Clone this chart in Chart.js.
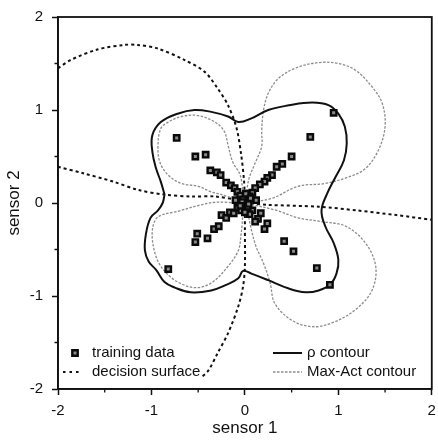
<!DOCTYPE html>
<html>
<head>
<meta charset="utf-8">
<script src="https://cdn.jsdelivr.net/npm/chart.js@4/dist/chart.umd.min.js"></script>
<style>
  html, body { margin: 0; padding: 0; background: #fff; }
  canvas { display: block; }
</style>
</head>
<body>
<canvas id="chart" width="438" height="443"></canvas>
<script>
const FONT = '"Liberation Sans", Arial, Helvetica, sans-serif';

// training samples (sensor 1, sensor 2)
const trainX = [
  0.95, 0.70, 0.50, 0.40, 0.34, 0.29, 0.24, 0.21, 0.16, 0.11, 0.08, 0.05, 0.02,
  -0.73, -0.53, -0.42, -0.37, -0.30, -0.26, -0.20, -0.15, -0.11, -0.08, -0.05, -0.02,
  0.91, 0.77, 0.52, 0.42, 0.24, 0.21, 0.17, 0.14, 0.11, 0.08, 0.05, 0.03,
  -0.82, -0.53, -0.51, -0.40, -0.33, -0.28, -0.25, -0.20, -0.16, -0.12, -0.08, -0.04,
  0.00, 0.04, -0.03, 0.01, 0.00, 0.12, -0.10, 0.06, -0.05
];
const trainY = [
  0.97, 0.71, 0.50, 0.42, 0.39, 0.30, 0.27, 0.23, 0.20, 0.16, 0.11, 0.07, 0.03,
  0.70, 0.50, 0.52, 0.35, 0.33, 0.30, 0.22, 0.19, 0.16, 0.12, 0.08, 0.04,
  -0.88, -0.70, -0.52, -0.41, -0.22, -0.28, -0.11, -0.17, -0.20, -0.08, -0.12, -0.04,
  -0.71, -0.42, -0.33, -0.38, -0.28, -0.25, -0.13, -0.16, -0.10, -0.11, -0.05, -0.08,
  0.00, -0.01, 0.01, 0.10, -0.10, 0.03, 0.03, 0.05, -0.03
];

// rho contour, closed loop
const rhoX = [
  -0.86, -0.90, -0.95, -0.99, -0.99, -0.90, -0.72, -0.54, -0.36, -0.18, -0.07, 0.07,
  0.25, 0.47, 0.72, 0.90, 1.00, 1.07, 1.09, 1.06, 0.97, 0.88, 0.82, 0.86, 0.95, 1.00,
  0.98, 0.91, 0.79, 0.65, 0.47, 0.25, 0.07, -0.02, -0.07, -0.20, -0.36, -0.58, -0.75,
  -0.86, -0.95, -1.03, -1.07, -1.06, -1.01, -0.93, -0.88, -0.86
];
const rhoY = [
  0.09, 0.23, 0.37, 0.55, 0.73, 0.87, 0.96, 1.00, 0.98, 0.93, 0.87, 0.91,
  1.00, 1.05, 1.08, 1.05, 0.96, 0.82, 0.64, 0.46, 0.28, 0.10, -0.08, -0.25, -0.43, -0.61,
  -0.76, -0.88, -0.94, -0.96, -0.92, -0.83, -0.76, -0.73, -0.81, -0.88, -0.94, -0.96, -0.91,
  -0.85, -0.72, -0.63, -0.51, -0.34, -0.16, -0.08, 0.00, 0.09
];

// Max-Act contour: four lobes, each leaving and returning to the origin
const maxActX = [
  0, 0.29, 0.57, 0.86, 1.11, 1.29, 1.43, 1.50, 1.47, 1.36, 1.18, 1.00, 0.79, 0.54, 0.36, 0.25, 0.20, 0.18, 0.18, 0.11, 0.04,
  0, -0.05, -0.13, -0.18, -0.22, -0.32, -0.50, -0.68, -0.82, -0.90, -0.93, -0.91, -0.82, -0.68, -0.50, -0.36, -0.25,
  0, -0.29, -0.47, -0.72, -0.93, -0.99, -0.97, -0.90, -0.75, -0.54, -0.36, -0.18, -0.07, -0.04,
  0, 0.07, 0.12, 0.20, 0.27, 0.32, 0.50, 0.72, 0.93, 1.18, 1.36, 1.40, 1.29, 1.08, 0.82, 0.57, 0.34,
  0
];
const maxActY = [
  0, 0.05, 0.18, 0.21, 0.28, 0.37, 0.57, 0.82, 1.07, 1.25, 1.43, 1.50, 1.51, 1.45, 1.34, 1.18, 1.00, 0.78, 0.61, 0.43, 0.25,
  0, 0.30, 0.44, 0.62, 0.77, 0.87, 0.94, 0.93, 0.87, 0.80, 0.62, 0.44, 0.30, 0.21, 0.18, 0.12, 0.09,
  0, 0.01, -0.02, -0.09, -0.15, -0.29, -0.51, -0.68, -0.83, -0.91, -0.86, -0.68, -0.51, -0.33,
  0, -0.29, -0.47, -0.65, -0.86, -1.08, -1.26, -1.33, -1.29, -1.15, -0.94, -0.68, -0.43, -0.25, -0.20, -0.16, -0.08,
  0
];

// decision surface, four branches meeting near the origin
const decTopX = [-2.0, -1.86, -1.58, -1.29, -1.15, -0.93, -0.65, -0.43, -0.29, -0.18, -0.09, -0.04, -0.01, 0.0];
const decTopY = [1.45, 1.54, 1.65, 1.70, 1.70, 1.66, 1.54, 1.41, 1.23, 1.05, 0.81, 0.52, 0.25, 0.03];
const decLeftX = [-2.0, -1.73, -1.41, -1.14, -0.86, -0.57, -0.32, 0.0];
const decLeftY = [0.39, 0.32, 0.23, 0.14, 0.09, 0.07, 0.07, 0.02];
const decRightX = [0.0, 0.25, 0.79, 1.20, 1.62, 2.0];
const decRightY = [0.0, -0.02, -0.04, -0.08, -0.13, -0.18];
const decBottomX = [0.0, 0.0, 0.0, -0.02, -0.07, -0.18, -0.29, -0.39, -0.47];
const decBottomY = [0.0, -0.29, -0.69, -0.90, -1.11, -1.40, -1.61, -1.80, -1.88];

const axisMin = -2, axisMax = 2;
const legendLabels = ['training data', 'decision surface', '\u03c1 contour', 'Max-Act contour'];
const xTitle = 'sensor 1';
const yTitle = 'sensor 2';

function pts(xs, ys) { return xs.map((x, i) => ({ x: x, y: ys[i] })); }

const decisionStyle = {
  type: 'scatter', showLine: true, pointRadius: 0, borderColor: '#111',
  borderWidth: 2, borderDash: [3, 3], tension: 0.3, fill: false
};

const markerStyle = { side: 5.4, fill: '#8a8a8a', stroke: '#0a0a0a', width: 2.4 };

// frame around the plot, minor half-unit ticks and the in-plot legend
const decorations = {
  id: 'decorations',
  afterDraw(chart) {
    const ctx = chart.ctx, a = chart.chartArea;
    const xs = chart.scales.x, ys = chart.scales.y;
    ctx.save();
    ctx.strokeStyle = '#111';
    ctx.lineWidth = 1.8;
    ctx.strokeRect(a.left, a.top, a.right - a.left, a.bottom - a.top);

    ctx.lineWidth = 1.3;
    ctx.beginPath();
    for (let i = 0; i < xs.ticks.length - 1; i++) {
      const px = xs.getPixelForValue((xs.ticks[i].value + xs.ticks[i + 1].value) / 2);
      ctx.moveTo(px, a.bottom); ctx.lineTo(px, a.bottom + 3.5);
    }
    for (let i = 0; i < ys.ticks.length - 1; i++) {
      const py = ys.getPixelForValue((ys.ticks[i].value + ys.ticks[i + 1].value) / 2);
      ctx.moveTo(a.left, py); ctx.lineTo(a.left - 3.5, py);
    }
    ctx.stroke();

    // legend
    const r1 = a.bottom - 36, r2 = a.bottom - 17;
    const mx = a.left + 17, tx1 = a.left + 34, lx0 = a.left + 215, lx1 = a.left + 244, tx2 = a.left + 249;
    ctx.font = '15px ' + FONT;
    ctx.textBaseline = 'middle';
    ctx.textAlign = 'left';

    ctx.fillStyle = markerStyle.fill;
    ctx.strokeStyle = markerStyle.stroke;
    ctx.lineWidth = markerStyle.width;
    ctx.beginPath();
    ctx.rect(mx - markerStyle.side / 2, r1 - markerStyle.side / 2, markerStyle.side, markerStyle.side);
    ctx.fill(); ctx.stroke();

    const dec = chart.data.datasets[3];
    ctx.strokeStyle = dec.borderColor;
    ctx.lineWidth = dec.borderWidth;
    ctx.setLineDash([2.5, 4]);
    ctx.beginPath(); ctx.moveTo(a.left + 5, r2); ctx.lineTo(a.left + 23, r2); ctx.stroke();

    const rho = chart.data.datasets[1];
    ctx.setLineDash([]);
    ctx.strokeStyle = rho.borderColor;
    ctx.lineWidth = rho.borderWidth;
    ctx.beginPath(); ctx.moveTo(lx0, r1); ctx.lineTo(lx1, r1); ctx.stroke();

    const ma = chart.data.datasets[2];
    ctx.strokeStyle = ma.borderColor;
    ctx.lineWidth = ma.borderWidth;
    ctx.setLineDash(ma.borderDash);
    ctx.beginPath(); ctx.moveTo(lx0, r2); ctx.lineTo(lx1, r2); ctx.stroke();
    ctx.setLineDash([]);

    ctx.fillStyle = '#111';
    ctx.fillText(legendLabels[0], tx1, r1);
    ctx.fillText(legendLabels[1], tx1, r2);
    ctx.fillText(legendLabels[2], tx2, r1);
    ctx.fillText(legendLabels[3], tx2, r2);
    ctx.restore();
  }
};

function axis(title, padding, extra) {
  return Object.assign({
    type: 'linear', min: axisMin, max: axisMax,
    border: { display: true, color: '#111', width: 1.6 },
    grid: { drawOnChartArea: false, drawTicks: true, tickLength: 6, tickColor: '#111', tickWidth: 1.5 },
    ticks: { stepSize: 1, padding: padding, color: '#111', font: { family: FONT, size: 15 } },
    title: { display: true, text: title, color: '#111', font: { family: FONT, size: 17 } }
  }, extra);
}

new Chart(document.getElementById('chart'), {
  type: 'scatter',
  data: {
    datasets: [
      { label: legendLabels[0], data: pts(trainX, trainY), pointStyle: 'rect',
        pointRadius: markerStyle.side / 2 / Math.SQRT1_2, pointHoverRadius: markerStyle.side / 2 / Math.SQRT1_2,
        backgroundColor: markerStyle.fill, borderColor: markerStyle.stroke, borderWidth: markerStyle.width, showLine: false },
      { label: legendLabels[2], data: pts(rhoX, rhoY), showLine: true, pointRadius: 0,
        borderColor: '#111', borderWidth: 2, tension: 0.4, fill: false },
      { label: legendLabels[3], data: pts(maxActX, maxActY), showLine: true, pointRadius: 0,
        borderColor: '#8c8c8c', borderWidth: 1.3, borderDash: [2.5, 1.5], tension: 0.35, fill: false },
      Object.assign({ label: legendLabels[1], data: pts(decTopX, decTopY) }, decisionStyle),
      Object.assign({ label: legendLabels[1], data: pts(decLeftX, decLeftY) }, decisionStyle),
      Object.assign({ label: legendLabels[1], data: pts(decRightX, decRightY) }, decisionStyle),
      Object.assign({ label: legendLabels[1], data: pts(decBottomX, decBottomY) }, decisionStyle)
    ]
  },
  options: {
    responsive: false,
    animation: false,
    devicePixelRatio: 1,
    layout: { padding: { left: 0, right: 5, top: 17, bottom: 0 } },
    plugins: { legend: { display: false }, tooltip: { enabled: false } },
    scales: {
      x: axis(xTitle, 7, {
        position: 'bottom',
        afterFit(s) { s.height = 54; s.paddingLeft = 0; s.paddingRight = 0; }
      }),
      y: axis(yTitle, 9, {
        position: 'left',
        afterFit(s) { s.width = 58; s.paddingTop = 0; s.paddingBottom = 0; }
      })
    }
  },
  plugins: [decorations]
});
</script>
</body>
</html>
